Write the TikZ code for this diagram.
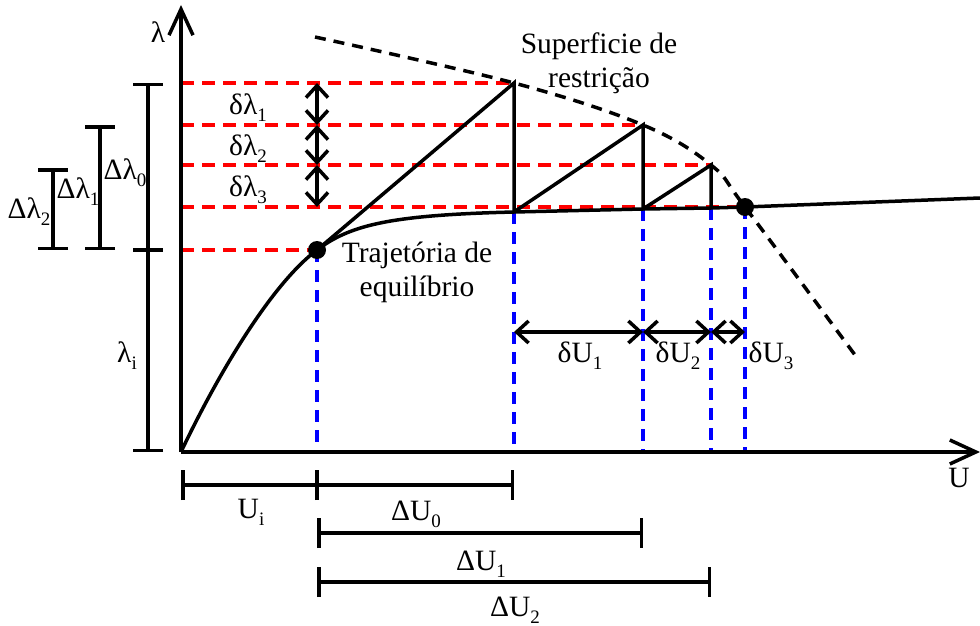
\documentclass[tikz,border=0pt]{standalone}
\usepackage{fontspec}
\setmainfont{Liberation Serif}
\usetikzlibrary{arrows.meta}
\newcommand{\lsub}[1]{\raisebox{-7.5pt}{\fontsize{19}{19}\selectfont #1}}
\begin{document}
\begin{tikzpicture}[x=1pt,y=-1pt,
  every node/.style={inner sep=0pt, font=\fontsize{29.5}{34}\selectfont},
  solidline/.style={line width=3.5pt, line join=miter},
  axisline/.style={line width=3.5pt,-{Straight Barb[length=26pt,width=24pt]}},
  reddash/.style={red, line width=3.5pt, dash pattern=on 13pt off 8pt},
  bluedash/.style={blue, line width=3.5pt, dash pattern=on 12pt off 8pt},
  blkdash/.style={black, line width=3.5pt, dash pattern=on 11pt off 8pt},
  darrow/.style={line width=3.5pt, {Straight Barb[length=12pt,width=22pt]}-{Straight Barb[length=12pt,width=22pt]}},
  dimbar/.style={line width=3.5pt, {Bar[width=30pt]}-{Bar[width=30pt]}},
  tick/.style={line width=3.5pt},
  dot/.style={circle, fill=black, minimum size=18pt, inner sep=0pt}
]
\path[use as bounding box] (0,0) rectangle (980,626);

% key points
\coordinate (O) at (181,452);
\coordinate (Ytop) at (181,5);
\coordinate (Xend) at (980,452);
\coordinate (P0) at (317,250);
\coordinate (A1) at (514,83);
\coordinate (B1) at (514,212);
\coordinate (A2) at (643,125);
\coordinate (B2) at (643,209);
\coordinate (A3) at (711,165);
\coordinate (B3) at (711,208);
\coordinate (P4) at (745,207);
\coordinate (Eend) at (980,198);
\coordinate (L1) at (181,83);
\coordinate (L2) at (181,125);
\coordinate (L3) at (181,165);
\coordinate (L4) at (181,207);
\coordinate (L0) at (181,250);
\coordinate (b0) at (317,452);
\coordinate (b1) at (514,452);
\coordinate (b2) at (643,452);
\coordinate (b3) at (711,452);
\coordinate (b4) at (745,452);
\coordinate (C0) at (315,37);
\coordinate (C5) at (855,355);

% red dashed levels
\draw[reddash] (L1) -- (A1);
\draw[reddash] (L2) -- (A2);
\draw[reddash] (L3) -- (A3);
\draw[reddash] (L4) -- (P4);
\draw[reddash] (L0) -- (P0);

% blue dashed verticals
\draw[bluedash] (P0) -- (b0);
\draw[bluedash] (B1) -- (b1);
\draw[bluedash] (B2) -- (b2);
\draw[bluedash] (B3) -- (b3);
\draw[bluedash] (P4) -- (b4);

% axes
\draw[axisline] (O) -- (Ytop);
\draw[axisline] (O) -- (Xend);

% equilibrium path
\draw[solidline] (O) .. controls (215,380) and (270,285) .. (P0)
  .. controls (350,225) and (390,215) .. (B1) -- (B2) -- (B3) -- (P4) -- (Eend);

% constraint surface
\draw[blkdash] plot[smooth, tension=0.6] coordinates {(C0) (A1) (A2) (A3) (P4) (C5)};

% predictor-corrector steps
\draw[solidline] (P0) -- (A1) -- (B1);
\draw[solidline] (B1) -- (A2) -- (B2);
\draw[solidline] (B2) -- (A3) -- (B3);

% delta lambda arrows
\coordinate (d1) at (317,83);
\coordinate (d2) at (317,125);
\coordinate (d3) at (317,165);
\coordinate (d4) at (317,207);
\draw[darrow] (d1) -- (d2);
\draw[darrow] (d2) -- (d3);
\draw[darrow] (d3) -- (d4);

% delta U arrows
\coordinate (u1) at (514,332);
\coordinate (u2) at (643,332);
\coordinate (u3) at (711,332);
\coordinate (u4) at (745,332);
\draw[darrow] (u1) -- (u2);
\draw[darrow] (u2) -- (u3);
\draw[darrow] (u3) -- (u4);

% left dimension bars
\coordinate (v0a) at (148,83);
\coordinate (v0b) at (148,250);
\coordinate (v0c) at (148,452);
\coordinate (v1a) at (100,125);
\coordinate (v1b) at (100,250);
\coordinate (v2a) at (53,168);
\coordinate (v2b) at (53,250);
\draw[dimbar] (v0a) -- (v0c);
\draw[tick] ([xshift=-15pt]v0b) -- ([xshift=15pt]v0b);
\draw[dimbar] (v1a) -- (v1b);
\draw[dimbar] (v2a) -- (v2b);

% bottom dimension bars
\coordinate (h0a) at (181,485);
\coordinate (h0b) at (317,485);
\coordinate (h0c) at (514,485);
\coordinate (h1a) at (317,533);
\coordinate (h1b) at (643,533);
\coordinate (h2a) at (317,582);
\coordinate (h2b) at (711,582);
\draw[dimbar] (h0a) -- (h0c);
\draw[tick] ([yshift=-15pt]h0b) -- ([yshift=15pt]h0b);
\draw[dimbar] (h1a) -- (h1b);
\draw[dimbar] (h2a) -- (h2b);

% dots
\node[dot] (dotP0) at (P0) {};
\node[dot] (dotP4) at (P4) {};

% labels
\node[anchor=base] (lamlab) at (158,43) {λ};
\node[anchor=base] (Ulab) at (959,487) {U};
\node[align=center] (suplab) at (599,63) {Superficie de\\restrição};
\node[align=center] (trajlab) at (417,272) {Trajetória de\\equilíbrio};
\node[anchor=base] (dl1) at (248,114) {δλ\lsub{1}};
\node[anchor=base] (dl2) at (248,155) {δλ\lsub{2}};
\node[anchor=base] (dl3) at (248,196) {δλ\lsub{3}};
\node[anchor=base] (Dl0) at (125,179) {Δλ\lsub{0}};
\node[anchor=base] (Dl1) at (78,198) {Δλ\lsub{1}};
\node[anchor=base] (Dl2) at (29,218) {Δλ\lsub{2}};
\node[anchor=base] (lil) at (127,362) {λ\lsub{i}};
\node[anchor=base] (dU1) at (580,362) {δU\lsub{1}};
\node[anchor=base] (dU2) at (678,362) {δU\lsub{2}};
\node[anchor=base] (dU3) at (771,362) {δU\lsub{3}};
\node[anchor=base] (Uil) at (251,518) {U\lsub{i}};
\node[anchor=base] (DU0) at (416,520) {ΔU\lsub{0}};
\node[anchor=base] (DU1) at (481,570) {ΔU\lsub{1}};
\node[anchor=base] (DU2) at (515,616) {ΔU\lsub{2}};
\end{tikzpicture}
\end{document}
